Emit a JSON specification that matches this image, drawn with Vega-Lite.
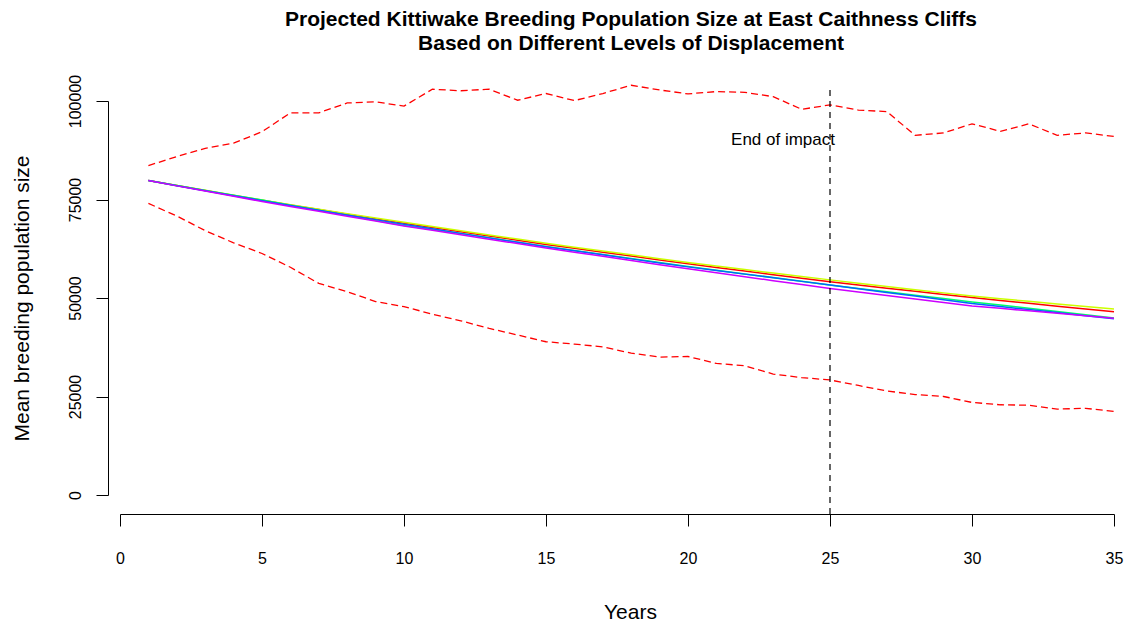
{
  "$schema": "https://vega.github.io/schema/vega-lite/v6.json",
  "width": 994,
  "height": 394,
  "autosize": {"type": "none"},
  "padding": {"left": 120, "top": 101, "right": 16, "bottom": 130},
  "background": "white",
  "config": {
    "view": {"stroke": null},
    "font": "Liberation Sans",
    "axis": {"grid": false, "domainColor": "black", "tickColor": "black", "labelColor": "black", "titleColor": "black", "labelFont": "Liberation Sans", "titleFont": "Liberation Sans", "domainWidth": 1, "tickWidth": 1}
  },
  "title": {
    "text": ["Projected Kittiwake Breeding Population Size at East Caithness Cliffs", "Based on Different Levels of Displacement"],
    "font": "Liberation Sans",
    "fontSize": 21,
    "fontWeight": "bold",
    "color": "black",
    "anchor": "middle",
    "frame": "group",
    "dx": 14,
    "offset": 20,
    "lineHeight": 24
  },
  "datasets": {
    "bounds": [
      {"year": 1, "value": 83600, "bound": "upper"}, {"year": 2, "value": 85900, "bound": "upper"}, {"year": 3, "value": 88000, "bound": "upper"}, {"year": 4, "value": 89300, "bound": "upper"}, {"year": 5, "value": 92200, "bound": "upper"},
      {"year": 6, "value": 97000, "bound": "upper"}, {"year": 7, "value": 97000, "bound": "upper"}, {"year": 8, "value": 99500, "bound": "upper"}, {"year": 9, "value": 99800, "bound": "upper"}, {"year": 10, "value": 98700, "bound": "upper"},
      {"year": 11, "value": 103000, "bound": "upper"}, {"year": 12, "value": 102600, "bound": "upper"}, {"year": 13, "value": 103000, "bound": "upper"}, {"year": 14, "value": 100200, "bound": "upper"}, {"year": 15, "value": 101900, "bound": "upper"},
      {"year": 16, "value": 100100, "bound": "upper"}, {"year": 17, "value": 101900, "bound": "upper"}, {"year": 18, "value": 104000, "bound": "upper"}, {"year": 19, "value": 102800, "bound": "upper"}, {"year": 20, "value": 101800, "bound": "upper"},
      {"year": 21, "value": 102400, "bound": "upper"}, {"year": 22, "value": 102200, "bound": "upper"}, {"year": 23, "value": 101100, "bound": "upper"}, {"year": 24, "value": 97900, "bound": "upper"}, {"year": 25, "value": 99000, "bound": "upper"},
      {"year": 26, "value": 97700, "bound": "upper"}, {"year": 27, "value": 97300, "bound": "upper"}, {"year": 28, "value": 91300, "bound": "upper"}, {"year": 29, "value": 91900, "bound": "upper"}, {"year": 30, "value": 94200, "bound": "upper"},
      {"year": 31, "value": 92300, "bound": "upper"}, {"year": 32, "value": 94200, "bound": "upper"}, {"year": 33, "value": 91300, "bound": "upper"}, {"year": 34, "value": 91900, "bound": "upper"}, {"year": 35, "value": 91000, "bound": "upper"},
      {"year": 1, "value": 74000, "bound": "lower"}, {"year": 2, "value": 70800, "bound": "lower"}, {"year": 3, "value": 67100, "bound": "lower"}, {"year": 4, "value": 64000, "bound": "lower"}, {"year": 5, "value": 61300, "bound": "lower"},
      {"year": 6, "value": 57800, "bound": "lower"}, {"year": 7, "value": 53700, "bound": "lower"}, {"year": 8, "value": 51600, "bound": "lower"}, {"year": 9, "value": 49100, "bound": "lower"}, {"year": 10, "value": 47800, "bound": "lower"},
      {"year": 11, "value": 45900, "bound": "lower"}, {"year": 12, "value": 44200, "bound": "lower"}, {"year": 13, "value": 42300, "bound": "lower"}, {"year": 14, "value": 40600, "bound": "lower"}, {"year": 15, "value": 38900, "bound": "lower"},
      {"year": 16, "value": 38300, "bound": "lower"}, {"year": 17, "value": 37600, "bound": "lower"}, {"year": 18, "value": 36000, "bound": "lower"}, {"year": 19, "value": 35000, "bound": "lower"}, {"year": 20, "value": 35150, "bound": "lower"},
      {"year": 21, "value": 33400, "bound": "lower"}, {"year": 22, "value": 32800, "bound": "lower"}, {"year": 23, "value": 30700, "bound": "lower"}, {"year": 24, "value": 29800, "bound": "lower"}, {"year": 25, "value": 29200, "bound": "lower"},
      {"year": 26, "value": 27800, "bound": "lower"}, {"year": 27, "value": 26400, "bound": "lower"}, {"year": 28, "value": 25500, "bound": "lower"}, {"year": 29, "value": 25000, "bound": "lower"}, {"year": 30, "value": 23500, "bound": "lower"},
      {"year": 31, "value": 22900, "bound": "lower"}, {"year": 32, "value": 22800, "bound": "lower"}, {"year": 33, "value": 21800, "bound": "lower"}, {"year": 34, "value": 22000, "bound": "lower"}, {"year": 35, "value": 21200, "bound": "lower"}
    ],
    "lines": [
      {"year": 1, "value": 79800, "series": "A"}, {"year": 2, "value": 78530, "series": "A"}, {"year": 3, "value": 77280, "series": "A"}, {"year": 4, "value": 76040, "series": "A"}, {"year": 5, "value": 74800, "series": "A"},
      {"year": 6, "value": 73610, "series": "A"}, {"year": 7, "value": 72440, "series": "A"}, {"year": 8, "value": 71290, "series": "A"}, {"year": 9, "value": 70140, "series": "A"}, {"year": 10, "value": 69000, "series": "A"},
      {"year": 11, "value": 67900, "series": "A"}, {"year": 12, "value": 66820, "series": "A"}, {"year": 13, "value": 65740, "series": "A"}, {"year": 14, "value": 64670, "series": "A"}, {"year": 15, "value": 63600, "series": "A"},
      {"year": 16, "value": 62610, "series": "A"}, {"year": 17, "value": 61630, "series": "A"}, {"year": 18, "value": 60650, "series": "A"}, {"year": 19, "value": 59670, "series": "A"}, {"year": 20, "value": 58700, "series": "A"},
      {"year": 21, "value": 57770, "series": "A"}, {"year": 22, "value": 56840, "series": "A"}, {"year": 23, "value": 55920, "series": "A"}, {"year": 24, "value": 55010, "series": "A"}, {"year": 25, "value": 54100, "series": "A"},
      {"year": 26, "value": 53290, "series": "A"}, {"year": 27, "value": 52490, "series": "A"}, {"year": 28, "value": 51690, "series": "A"}, {"year": 29, "value": 50890, "series": "A"}, {"year": 30, "value": 50100, "series": "A"},
      {"year": 31, "value": 49370, "series": "A"}, {"year": 32, "value": 48650, "series": "A"}, {"year": 33, "value": 47930, "series": "A"}, {"year": 34, "value": 47210, "series": "A"}, {"year": 35, "value": 46500, "series": "A"},
      {"year": 1, "value": 79800, "series": "B"}, {"year": 2, "value": 78550, "series": "B"}, {"year": 3, "value": 77320, "series": "B"}, {"year": 4, "value": 76100, "series": "B"}, {"year": 5, "value": 74900, "series": "B"},
      {"year": 6, "value": 73700, "series": "B"}, {"year": 7, "value": 72540, "series": "B"}, {"year": 8, "value": 71400, "series": "B"}, {"year": 9, "value": 70280, "series": "B"}, {"year": 10, "value": 69200, "series": "B"},
      {"year": 11, "value": 68120, "series": "B"}, {"year": 12, "value": 67050, "series": "B"}, {"year": 13, "value": 66000, "series": "B"}, {"year": 14, "value": 64950, "series": "B"}, {"year": 15, "value": 63900, "series": "B"},
      {"year": 16, "value": 62900, "series": "B"}, {"year": 17, "value": 61920, "series": "B"}, {"year": 18, "value": 60950, "series": "B"}, {"year": 19, "value": 59970, "series": "B"}, {"year": 20, "value": 59000, "series": "B"},
      {"year": 21, "value": 58100, "series": "B"}, {"year": 22, "value": 57220, "series": "B"}, {"year": 23, "value": 56330, "series": "B"}, {"year": 24, "value": 55460, "series": "B"}, {"year": 25, "value": 54600, "series": "B"},
      {"year": 26, "value": 53770, "series": "B"}, {"year": 27, "value": 52940, "series": "B"}, {"year": 28, "value": 52120, "series": "B"}, {"year": 29, "value": 51300, "series": "B"}, {"year": 30, "value": 50500, "series": "B"},
      {"year": 31, "value": 49820, "series": "B"}, {"year": 32, "value": 49150, "series": "B"}, {"year": 33, "value": 48500, "series": "B"}, {"year": 34, "value": 47850, "series": "B"}, {"year": 35, "value": 47200, "series": "B"},
      {"year": 1, "value": 79800, "series": "C"}, {"year": 2, "value": 78560, "series": "C"}, {"year": 3, "value": 77300, "series": "C"}, {"year": 4, "value": 76080, "series": "C"}, {"year": 5, "value": 74850, "series": "C"},
      {"year": 6, "value": 73560, "series": "C"}, {"year": 7, "value": 72260, "series": "C"}, {"year": 8, "value": 70970, "series": "C"}, {"year": 9, "value": 69690, "series": "C"}, {"year": 10, "value": 68400, "series": "C"},
      {"year": 11, "value": 67380, "series": "C"}, {"year": 12, "value": 66380, "series": "C"}, {"year": 13, "value": 65270, "series": "C"}, {"year": 14, "value": 64180, "series": "C"}, {"year": 15, "value": 63100, "series": "C"},
      {"year": 16, "value": 62080, "series": "C"}, {"year": 17, "value": 61050, "series": "C"}, {"year": 18, "value": 60030, "series": "C"}, {"year": 19, "value": 59010, "series": "C"}, {"year": 20, "value": 58000, "series": "C"},
      {"year": 21, "value": 57060, "series": "C"}, {"year": 22, "value": 56120, "series": "C"}, {"year": 23, "value": 55180, "series": "C"}, {"year": 24, "value": 54240, "series": "C"}, {"year": 25, "value": 53300, "series": "C"},
      {"year": 26, "value": 52440, "series": "C"}, {"year": 27, "value": 51580, "series": "C"}, {"year": 28, "value": 50720, "series": "C"}, {"year": 29, "value": 49860, "series": "C"}, {"year": 30, "value": 49000, "series": "C"},
      {"year": 31, "value": 48200, "series": "C"}, {"year": 32, "value": 47400, "series": "C"}, {"year": 33, "value": 46570, "series": "C"}, {"year": 34, "value": 45730, "series": "C"}, {"year": 35, "value": 44900, "series": "C"},
      {"year": 1, "value": 79800, "series": "D"}, {"year": 2, "value": 78510, "series": "D"}, {"year": 3, "value": 77230, "series": "D"}, {"year": 4, "value": 75960, "series": "D"}, {"year": 5, "value": 74700, "series": "D"},
      {"year": 6, "value": 73480, "series": "D"}, {"year": 7, "value": 72280, "series": "D"}, {"year": 8, "value": 71080, "series": "D"}, {"year": 9, "value": 69890, "series": "D"}, {"year": 10, "value": 68700, "series": "D"},
      {"year": 11, "value": 67550, "series": "D"}, {"year": 12, "value": 66400, "series": "D"}, {"year": 13, "value": 65260, "series": "D"}, {"year": 14, "value": 64130, "series": "D"}, {"year": 15, "value": 63000, "series": "D"},
      {"year": 16, "value": 61970, "series": "D"}, {"year": 17, "value": 60950, "series": "D"}, {"year": 18, "value": 59930, "series": "D"}, {"year": 19, "value": 58910, "series": "D"}, {"year": 20, "value": 57900, "series": "D"},
      {"year": 21, "value": 56980, "series": "D"}, {"year": 22, "value": 56060, "series": "D"}, {"year": 23, "value": 55140, "series": "D"}, {"year": 24, "value": 54220, "series": "D"}, {"year": 25, "value": 53300, "series": "D"},
      {"year": 26, "value": 52360, "series": "D"}, {"year": 27, "value": 51420, "series": "D"}, {"year": 28, "value": 50480, "series": "D"}, {"year": 29, "value": 49540, "series": "D"}, {"year": 30, "value": 48600, "series": "D"},
      {"year": 31, "value": 47830, "series": "D"}, {"year": 32, "value": 47060, "series": "D"}, {"year": 33, "value": 46290, "series": "D"}, {"year": 34, "value": 45520, "series": "D"}, {"year": 35, "value": 44750, "series": "D"},
      {"year": 1, "value": 79800, "series": "E"}, {"year": 2, "value": 78460, "series": "E"}, {"year": 3, "value": 77130, "series": "E"}, {"year": 4, "value": 75810, "series": "E"}, {"year": 5, "value": 74500, "series": "E"},
      {"year": 6, "value": 73250, "series": "E"}, {"year": 7, "value": 72010, "series": "E"}, {"year": 8, "value": 70770, "series": "E"}, {"year": 9, "value": 69530, "series": "E"}, {"year": 10, "value": 68300, "series": "E"},
      {"year": 11, "value": 67170, "series": "E"}, {"year": 12, "value": 66040, "series": "E"}, {"year": 13, "value": 64920, "series": "E"}, {"year": 14, "value": 63810, "series": "E"}, {"year": 15, "value": 62700, "series": "E"},
      {"year": 16, "value": 61640, "series": "E"}, {"year": 17, "value": 60580, "series": "E"}, {"year": 18, "value": 59520, "series": "E"}, {"year": 19, "value": 58460, "series": "E"}, {"year": 20, "value": 57400, "series": "E"},
      {"year": 21, "value": 56400, "series": "E"}, {"year": 22, "value": 55400, "series": "E"}, {"year": 23, "value": 54400, "series": "E"}, {"year": 24, "value": 53400, "series": "E"}, {"year": 25, "value": 52400, "series": "E"},
      {"year": 26, "value": 51520, "series": "E"}, {"year": 27, "value": 50640, "series": "E"}, {"year": 28, "value": 49760, "series": "E"}, {"year": 29, "value": 48880, "series": "E"}, {"year": 30, "value": 48000, "series": "E"},
      {"year": 31, "value": 47370, "series": "E"}, {"year": 32, "value": 46740, "series": "E"}, {"year": 33, "value": 46110, "series": "E"}, {"year": 34, "value": 45480, "series": "E"}, {"year": 35, "value": 44850, "series": "E"}
    ],
    "marker": [{"year": 25, "value": -4800, "value2": 103600}],
    "note": [{"year": 25, "value": 90000, "label": "End of impact"}]
  },
  "layer": [
    {
      "data": {"name": "bounds"},
      "mark": {"type": "line", "color": "#FF0000", "strokeWidth": 1.3, "strokeDash": [7, 4]},
      "encoding": {
        "x": {"field": "year", "type": "quantitative", "scale": {"domain": [0, 35], "nice": false, "zero": false},
          "axis": {"title": "Years", "values": [0, 5, 10, 15, 20, 25, 30, 35], "offset": 19, "tickSize": 12, "labelFontSize": 16, "labelPadding": 24, "titleFontSize": 21, "titleFontWeight": "normal", "titlePadding": 35, "titleX": 510, "labelFlush": false}},
        "y": {"field": "value", "type": "quantitative", "scale": {"domain": [0, 100000], "nice": false, "zero": false},
          "axis": {"title": "Mean breeding population size", "values": [0, 25000, 50000, 75000, 100000], "format": "d", "offset": 12, "tickSize": 12, "labelAngle": -90, "labelAlign": "center", "labelBaseline": "bottom", "labelFontSize": 16, "labelPadding": 13, "titleFontSize": 21, "titleFontWeight": "normal", "titlePadding": 35, "labelFlush": false}},
        "detail": {"field": "bound", "type": "nominal"}
      }
    },
    {
      "data": {"name": "lines"},
      "mark": {"type": "line", "strokeWidth": 1.5},
      "encoding": {
        "x": {"field": "year", "type": "quantitative"},
        "y": {"field": "value", "type": "quantitative"},
        "color": {"field": "series", "type": "nominal", "legend": null,
          "scale": {"domain": ["A", "B", "C", "D", "E"], "range": ["#FF0000", "#CCFF00", "#00FF66", "#0066FF", "#CC00FF"]}}
      }
    },
    {
      "data": {"name": "marker"},
      "mark": {"type": "rule", "color": "black", "strokeWidth": 1.2, "strokeDash": [6, 5]},
      "encoding": {
        "x": {"field": "year", "type": "quantitative"},
        "y": {"field": "value", "type": "quantitative"},
        "y2": {"field": "value2"}
      }
    },
    {
      "data": {"name": "note"},
      "mark": {"type": "text", "align": "right", "baseline": "middle", "dx": 5, "fontSize": 17, "font": "Liberation Sans", "color": "black"},
      "encoding": {
        "x": {"field": "year", "type": "quantitative"},
        "y": {"field": "value", "type": "quantitative"},
        "text": {"field": "label"}
      }
    }
  ]
}
